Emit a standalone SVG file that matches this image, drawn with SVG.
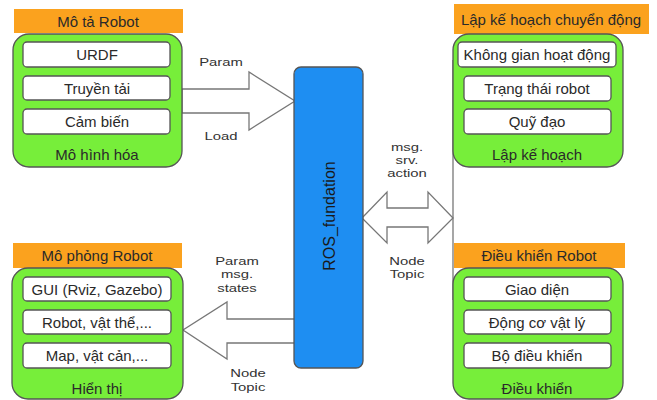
<svg xmlns="http://www.w3.org/2000/svg" width="657" height="400" viewBox="0 0 657 400">
<style>
text{font-family:"Liberation Sans",Arial,sans-serif;font-size:15px;fill:#2a2a2a;text-anchor:middle;dominant-baseline:central}
.hdr{fill:#FBA21E}
.grp{fill:#77EE3A;stroke:#555;stroke-width:1.3}
.item{fill:#fff;stroke:#555;stroke-width:1.3}
.arr{fill:#fff;stroke:#777;stroke-width:1.3;stroke-linejoin:miter}
.lbl text{font-size:11px;fill:#333}
</style>
<rect width="657" height="400" fill="#fff"/>
<g id="connectors">
<line x1="453" y1="60" x2="453" y2="300" stroke="#777" stroke-width="1.3"/>
<polygon class="arr" points="182,89 249,89 249,72 295,101 249,130 249,113 182,113"/>
<polygon class="arr" points="295,319 227,319 227,302 183,330 227,359 227,343 295,343"/>
<polygon class="arr" points="362,218 387,192 387,208 428,208 428,192 453,218 428,243 428,227 387,227 387,243"/>
<g class="lbl" transform="translate(221,62) scale(1.35,1)"><text x="0" y="0">Param</text></g>
<g class="lbl" transform="translate(221,136) scale(1.35,1)"><text x="0" y="0">Load</text></g>
<g class="lbl" transform="translate(407,147) scale(1.35,1)"><text x="0" y="0">msg.</text><text x="0" y="13">srv.</text><text x="0" y="26">action</text></g>
<g class="lbl" transform="translate(407,261) scale(1.35,1)"><text x="0" y="0">Node</text><text x="0" y="13">Topic</text></g>
<g class="lbl" transform="translate(237,261) scale(1.35,1)"><text x="0" y="0">Param</text><text x="0" y="13.5">msg.</text><text x="0" y="27">states</text></g>
<g class="lbl" transform="translate(248,373) scale(1.35,1)"><text x="0" y="0">Node</text><text x="0" y="14">Topic</text></g>
</g>
<g id="ros">
<rect x="294" y="67" width="69" height="301" rx="7" fill="#1E8EF2" stroke="#555" stroke-width="1.3"/>
<text x="329" y="216" transform="rotate(-90 329 216)" style="font-size:16px;fill:#1a1a1a">ROS_fundation</text>
</g>
<g id="mota">
<rect class="hdr" x="14" y="9" width="169" height="24"/>
<text x="98" y="21">Mô tả Robot</text>
<rect class="grp" x="13" y="34" width="169" height="133" rx="16"/>
<rect class="item" x="23" y="42" width="147" height="25" rx="4"/>
<text x="97" y="54">URDF</text>
<rect class="item" x="23" y="76" width="147" height="24" rx="4"/>
<text x="97" y="88">Truyền tải</text>
<rect class="item" x="23" y="109" width="147" height="25" rx="4"/>
<text x="97" y="121">Cảm biến</text>
<text x="97" y="154">Mô hình hóa</text>
</g>
<g id="laphoach">
<rect class="hdr" x="454" y="4" width="195" height="30"/>
<text x="551" y="19">Lập kế hoạch chuyển động</text>
<rect class="grp" x="453" y="34" width="170" height="133" rx="16"/>
<rect class="item" x="458" y="42" width="158" height="25" rx="4"/>
<text x="537" y="54">Không gian hoạt động</text>
<rect class="item" x="464" y="76" width="147" height="25" rx="4"/>
<text x="537" y="88">Trạng thái robot</text>
<rect class="item" x="464" y="109" width="147" height="25" rx="4"/>
<text x="537" y="121">Quỹ đạo</text>
<text x="537" y="154">Lập kế hoạch</text>
</g>
<g id="mophong">
<rect class="hdr" x="13" y="243" width="169" height="25"/>
<text x="97" y="255">Mô phỏng Robot</text>
<rect class="grp" x="12" y="268" width="171" height="131" rx="16"/>
<rect class="item" x="23" y="277" width="148" height="24" rx="4"/>
<text x="97" y="289">GUI (Rviz, Gazebo)</text>
<rect class="item" x="23" y="310" width="148" height="24" rx="4"/>
<text x="97" y="322">Robot, vật thể,...</text>
<rect class="item" x="23" y="343" width="148" height="25" rx="4"/>
<text x="97" y="355">Map, vật cản,...</text>
<text x="97" y="388">Hiển thị</text>
</g>
<g id="dieukhien">
<rect class="hdr" x="454" y="243" width="171" height="25"/>
<text x="539" y="255">Điều khiển Robot</text>
<rect class="grp" x="453" y="268" width="170" height="131" rx="16"/>
<rect class="item" x="464" y="277" width="147" height="24" rx="4"/>
<text x="537" y="289">Giao diện</text>
<rect class="item" x="464" y="310" width="147" height="24" rx="4"/>
<text x="537" y="322">Động cơ vật lý</text>
<rect class="item" x="464" y="343" width="147" height="25" rx="4"/>
<text x="537" y="355">Bộ điều khiển</text>
<text x="537" y="388">Điều khiển</text>
</g>
</svg>
